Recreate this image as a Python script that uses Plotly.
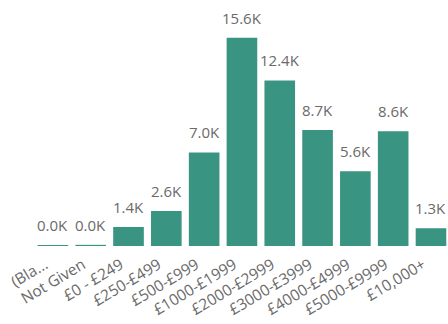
import plotly.graph_objects as go

categories = ["(Bla...", "Not Given", "£0 - £249", "£250-£499", "£500-£999", "£1000-£1999",
              "£2000-£2999", "£3000-£3999", "£4000-£4999", "£5000-£9999", "£10,000+"]
values_k = [0.02, 0.03, 1.37, 2.58, 6.98, 15.6, 12.4, 8.66, 5.57, 8.58, 1.28]
labels = ["0.0K", "0.0K", "1.4K", "2.6K", "7.0K", "15.6K", "12.4K", "8.7K", "5.6K", "8.6K", "1.3K"]

bar_color = "#3a9482"
text_color = "#6a6a6a"
font_family = "Segoe UI, Open Sans, Noto Sans, sans-serif"

fig = go.Figure()
fig.add_trace(go.Bar(
    x=list(range(len(categories))), y=values_k,
    marker=dict(color=bar_color, line=dict(color=bar_color, width=1.5)),
    hoverinfo="skip",
))

for i, (v, t) in enumerate(zip(values_k, labels)):
    fig.add_annotation(x=i, y=v, text=t, showarrow=False, yanchor="middle", yshift=21,
                       font=dict(family=font_family, size=15, color=text_color))

fig.update_layout(
    width=448, height=324,
    margin=dict(l=34, r=0, t=20, b=78),
    paper_bgcolor="white", plot_bgcolor="white",
    bargap=0.23, showlegend=False,
    xaxis=dict(tickmode="array", tickvals=list(range(len(categories))), ticktext=categories,
               range=[-0.5, 10.45], tickangle=-31, showgrid=False, zeroline=False, showline=False,
               ticks="", ticklabelstandoff=6, ticklabelshift=-8,
               tickfont=dict(family=font_family, size=15.5, color=text_color)),
    yaxis=dict(range=[0, 17.0], visible=False, showgrid=False, zeroline=False),
)

fig.write_html("out.html")
